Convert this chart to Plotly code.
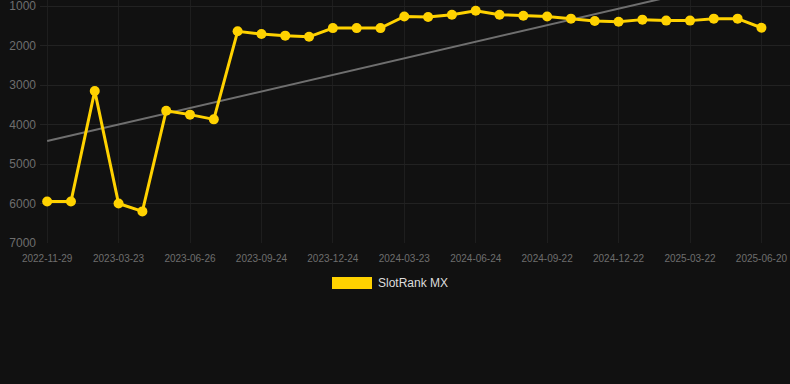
import plotly.graph_objects as go

dates = [
    "2022-11-29", "2023-01-05", "2023-02-13", "2023-03-23", "2023-04-24", "2023-05-25",
    "2023-06-26", "2023-07-26", "2023-08-25", "2023-09-24", "2023-10-24", "2023-11-23",
    "2023-12-24", "2024-01-23", "2024-02-22", "2024-03-23", "2024-04-24", "2024-05-24",
    "2024-06-24", "2024-07-24", "2024-08-23", "2024-09-22", "2024-10-22", "2024-11-21",
    "2024-12-22", "2025-01-21", "2025-02-20", "2025-03-22", "2025-04-21", "2025-05-21",
    "2025-06-20",
]
rank = [
    5950, 5950, 3150, 6000, 6200, 3650, 3750, 3870, 1640, 1710, 1750, 1780,
    1560, 1560, 1560, 1265, 1280, 1220, 1120, 1220, 1245, 1265, 1320, 1380,
    1400, 1345, 1370, 1370, 1320, 1320, 1550,
]
trend_x = [dates[0], dates[-1]]
trend_y = [4420, 230]
tick_labels = dates[::3]
y_ticks = [1000, 2000, 3000, 4000, 5000, 6000, 7000]
series_name = "SlotRank MX"

yellow = "#ffd200"

fig = go.Figure()
fig.add_trace(go.Scatter(
    x=trend_x, y=trend_y, mode="lines",
    line=dict(color="#6f6f6f", width=2), showlegend=False, hoverinfo="skip",
))
fig.add_trace(go.Scatter(
    x=dates, y=rank, mode="lines+markers", name=series_name,
    line=dict(color=yellow, width=3),
    marker=dict(color=yellow, size=10),
    showlegend=False,
))

fig.update_layout(
    width=790, height=384,
    margin=dict(l=40, r=0, t=0, b=141),
    paper_bgcolor="#111111", plot_bgcolor="#111111",
    font=dict(family="Liberation Sans, Arial, sans-serif"),
    xaxis=dict(
        type="category", categoryorder="array", categoryarray=dates,
        range=[-0.3, 31.2],
        tickmode="array", tickvals=tick_labels, ticktext=tick_labels,
        tickfont=dict(size=10, color="#6e6e6e"),
        showgrid=True, gridcolor="#1e1e1e", gridwidth=1,
        zeroline=False, showline=False, ticks="", ticklabelstandoff=8,
        ticklabeloverflow="allow",
    ),
    yaxis=dict(
        range=[7000, 848], tickmode="array", tickvals=y_ticks,
        ticktext=[str(v) for v in y_ticks],
        tickfont=dict(size=12, color="#6e6e6e"),
        showgrid=True, gridcolor="#222222", gridwidth=1,
        zeroline=False, showline=False, ticks="", ticklabelstandoff=3,
        ticklabeloverflow="allow",
    ),
    shapes=[dict(
        type="rect", xref="paper", yref="paper",
        x0=(332 - 40) / 750, x1=(372 - 40) / 750,
        y0=(243 - 289) / 243, y1=(243 - 277) / 243,
        fillcolor=yellow, line=dict(width=0),
    )],
    annotations=[dict(
        text=series_name, xref="paper", yref="paper",
        x=(376 - 40) / 750, y=(243 - 283) / 243,
        xanchor="left", yanchor="middle", showarrow=False,
        font=dict(size=12, color="#dddddd"),
    )],
)

fig.write_html(
    "out.html",
    config={"displayModeBar": False},
    post_script="document.body.style.margin='0';document.body.style.overflow='hidden';document.body.style.background='#111111';",
)
